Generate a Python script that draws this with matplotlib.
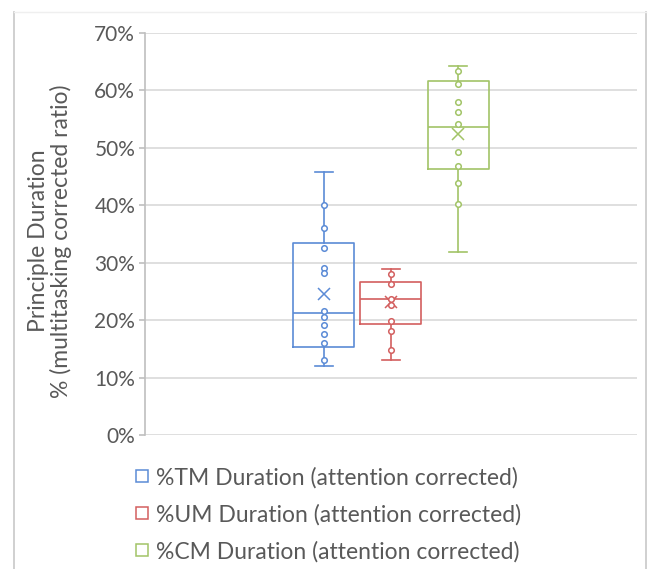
import numpy as np
import matplotlib.pyplot as plt
from matplotlib.lines import Line2D

plt.rcParams['font.family'] = ['Lato', 'DejaVu Sans']

labels = ["%TM Duration (attention corrected)",
          "%UM Duration (attention corrected)",
          "%CM Duration (attention corrected)"]
colors = ["#5B8BD6", "#D35F5F", "#A2C467"]

# inner points (fractions), whisker ends kept below
tm_pts = [0.400, 0.360, 0.325, 0.291, 0.282, 0.216, 0.206, 0.191, 0.176, 0.160, 0.130]
um_pts = [0.280, 0.263, 0.236, 0.226, 0.199, 0.181, 0.148]
cm_pts = [0.634, 0.611, 0.580, 0.562, 0.542, 0.493, 0.468, 0.438, 0.403]

# box summaries: q1, median, q3, whisker low, whisker high, mean
q1 = [0.154, 0.194, 0.463]
med = [0.212, 0.237, 0.536]
q3 = [0.335, 0.267, 0.616]
wlo = [0.121, 0.130, 0.318]
whi = [0.458, 0.289, 0.643]
means = [0.246, 0.232, 0.525]

yticks = np.arange(0, 0.71, 0.1)
ytick_labels = ["%d%%" % round(v * 100) for v in yticks]

fig = plt.figure(figsize=(6.53, 5.69), dpi=100)
ax = fig.add_axes([0.222, 0.2355, 0.7535, 0.7065])

positions = [-1, 0, 1]
width = 0.91
points = [tm_pts, um_pts, cm_pts]

for i in range(3):
    stats = [{"q1": q1[i], "med": med[i], "q3": q3[i],
              "whislo": wlo[i], "whishi": whi[i], "mean": means[i], "fliers": []}]
    c = colors[i]
    ax.bxp(stats, positions=[positions[i]], widths=width, capwidths=0.26,
           showmeans=True, showfliers=False, manage_ticks=False,
           boxprops=dict(color=c, linewidth=1.2),
           medianprops=dict(color=c, linewidth=1.2),
           whiskerprops=dict(color=c, linewidth=1.2),
           capprops=dict(color=c, linewidth=1.2),
           meanprops=dict(marker="x", markeredgecolor=c, markersize=8, markeredgewidth=1.1))
    ax.plot([positions[i]] * len(points[i]), points[i], "o", linestyle="none",
            markerfacecolor="white", markeredgecolor=c, markersize=4, markeredgewidth=1.1,
            zorder=4)

ax.set_xlim(-3.67, 3.67)
ax.set_ylim(0, 0.70)
ax.set_yticks(yticks)
ax.set_yticklabels(ytick_labels, fontsize=15, color="#595959")
ax.set_xticks([])
ax.grid(axis="y", color="#D9D9D9", linewidth=1.2)
ax.set_axisbelow(True)
for s in ["top", "right", "bottom"]:
    ax.spines[s].set_visible(False)
ax.spines["left"].set_color("#BFBFBF")
ax.spines["left"].set_linewidth(1.2)
ax.tick_params(axis="y", length=4, width=1.2, color="#BFBFBF", pad=3)

ax.set_ylabel("Principle Duration\n% (multitasking corrected ratio)",
              fontsize=16.5, color="#595959", linespacing=1.05)
ax.yaxis.set_label_coords(-0.148, 0.483)

handles = [Line2D([], [], marker="s", linestyle="none", markerfacecolor="white",
                  markeredgecolor=c, markersize=8.5, markeredgewidth=1.1) for c in colors]
fig.legend(handles, labels, loc="upper left", bbox_to_anchor=(0.19, 0.2),
           frameon=False, fontsize=16.5, labelcolor="#595959",
           handlelength=0.6, handletextpad=0.3, labelspacing=0.68, borderpad=0)

# chart frame
fig.add_artist(Line2D([14 / 653, 14 / 653], [0, 1 - 12 / 569], color="#C8C8C8", linewidth=1.2))
fig.add_artist(Line2D([646 / 653, 646 / 653], [0, 1 - 12 / 569], color="#C8C8C8", linewidth=1.2))
fig.add_artist(Line2D([14 / 653, 646 / 653], [1 - 12 / 569, 1 - 12 / 569], color="#EFEFEF", linewidth=1))

fig.savefig("out.png", dpi=100)
